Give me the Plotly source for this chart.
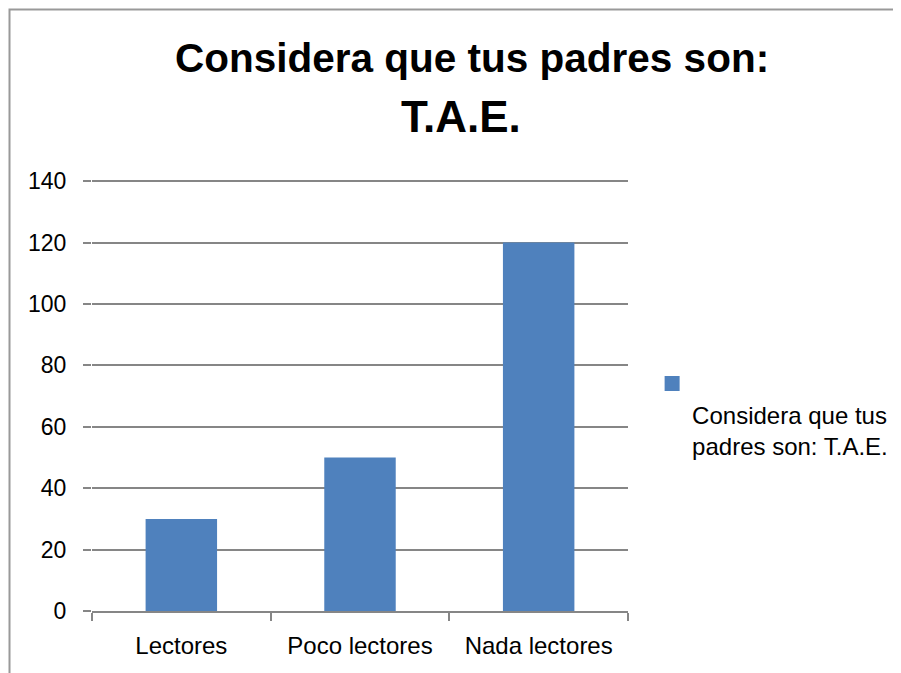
import plotly.graph_objects as go

categories = ["Lectores", "Poco lectores", "Nada lectores"]
values = [30, 50, 120]
y_ticks = [0, 20, 40, 60, 80, 100, 120, 140]
title_lines = ["Considera que tus padres son:", "T.A.E."]
legend_text = "<br>Considera que tus<br>padres son: T.A.E."

bar_color = "#4F81BD"
grid = "#868686"
font = "Liberation Sans, Arial, sans-serif"

fig = go.Figure()
fig.add_trace(
    go.Bar(
        x=categories,
        y=values,
        marker=dict(color=bar_color, line=dict(width=0)),
        showlegend=False,
    )
)
# legend entry (square swatch above the wrapped label, like the original)
fig.add_trace(
    go.Scatter(
        x=[None],
        y=[None],
        mode="markers",
        name=legend_text,
        marker=dict(symbol="square", size=15, color=bar_color),
        showlegend=True,
    )
)

# the page body adds an 8px offset; margins are set so the plot lands where it should
fig.update_layout(
    width=901,
    height=673,
    paper_bgcolor="white",
    plot_bgcolor="white",
    margin=dict(l=84, r=281, t=172, b=70),
    bargap=0.6,
    font=dict(family=font, size=24, color="black"),
    legend=dict(
        x=1.045,
        xanchor="left",
        y=0.455,
        yanchor="middle",
        valign="top",
        font=dict(size=24),
    ),
    shapes=[
        dict(
            type="rect",
            xref="paper",
            yref="paper",
            x0=-0.1539,
            x1=1.7,
            y0=-0.3,
            y1=1.3956,
            line=dict(color="#999999", width=2),
            fillcolor="rgba(0,0,0,0)",
            layer="below",
        )
    ],
    annotations=[
        dict(
            text="<b>" + title_lines[0] + "</b>",
            xref="paper",
            yref="paper",
            x=0.709,
            y=1.283,
            xanchor="center",
            yanchor="middle",
            showarrow=False,
            font=dict(size=40.5),
        ),
        dict(
            text="<b>" + title_lines[1] + "</b>",
            xref="paper",
            yref="paper",
            x=0.6875,
            y=1.1473,
            xanchor="center",
            yanchor="middle",
            showarrow=False,
            font=dict(size=44),
        ),
    ],
)

fig.update_yaxes(
    range=[0, 140.4],
    tickvals=y_ticks,
    showgrid=True,
    gridcolor=grid,
    gridwidth=1.5,
    zeroline=False,
    showline=False,
    ticks="outside",
    ticklen=8,
    tickcolor=grid,
    tickwidth=1.5,
    ticklabelstandoff=12,
    tickfont=dict(size=23),
)
fig.update_xaxes(
    showline=True,
    linecolor=grid,
    linewidth=1.5,
    ticks="outside",
    tickson="boundaries",
    ticklen=8,
    tickcolor=grid,
    tickwidth=1.5,
    ticklabelstandoff=12,
    showgrid=False,
)

fig.write_html("out.html")
